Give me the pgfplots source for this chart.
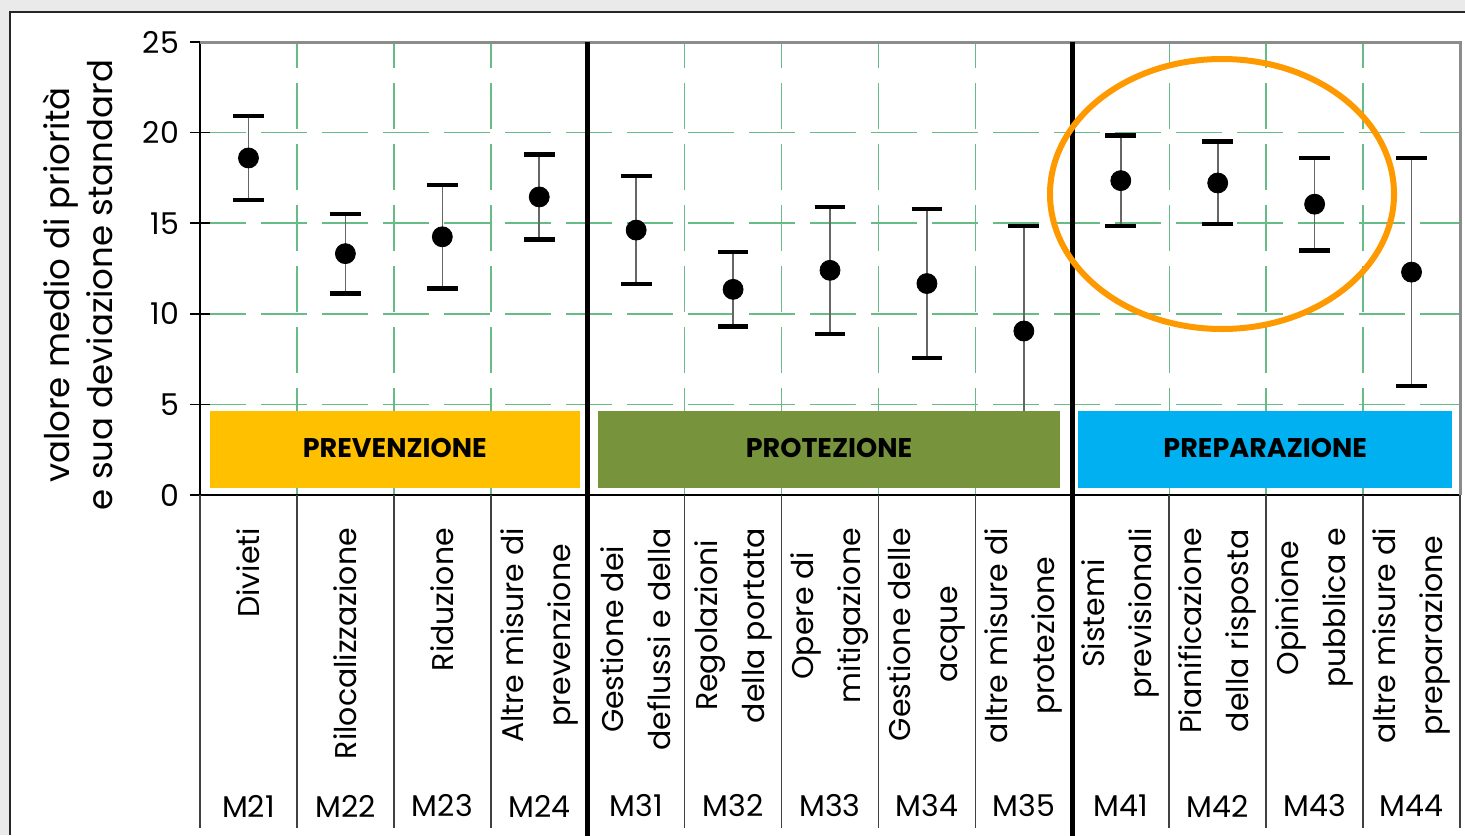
\documentclass[border=0pt]{standalone}
\usepackage{pgfplots}
\usepackage{pgfplotstable}
\pgfplotsset{compat=1.18}
\usepackage{fontspec}
\setmainfont{Poppins}

\definecolor{gridgreen}{RGB}{102,187,135}
\definecolor{prevyellow}{RGB}{255,192,0}
\definecolor{protgreen}{RGB}{119,147,60}
\definecolor{prepblue}{RGB}{0,176,240}
\definecolor{ringorange}{RGB}{255,153,0}
\definecolor{bggray}{RGB}{234,234,234}

% mean priority and its standard deviation, M21 ... M44
\pgfplotstableread{
x mean err
1 18.60 2.32
2 13.32 2.19
3 14.25 2.85
4 16.45 2.35
5 14.62 2.98
6 11.35 2.05
7 12.40 3.50
8 11.67 4.12
9 9.05 5.80
10 17.35 2.50
11 17.22 2.28
12 16.05 2.55
13 12.30 6.30
}\datatable

\begin{document}
\begin{tikzpicture}
\path[use as bounding box] (0pt,0pt) rectangle (732.5pt,-417.5pt);
% 1 px of the reference = 0.5pt
\begin{scope}[x=0.5pt,y=-0.5pt]
  \fill[bggray] (0,0) rectangle (1465,835);
  \fill[white] (10,12) rectangle (1465,835);
  \draw[black!85, line width=1pt] (10,835) -- (10,12) -- (1465,12);
\end{scope}

\begin{axis}[
    at={(100pt,-247.5pt)}, anchor=south west,
    scale only axis, width=630pt, height=226.5pt,
    xmin=0.5, xmax=13.5, ymin=0, ymax=25,
    axis x line*=bottom, axis y line*=left,
    axis line style={black, line width=0.9pt},
    xtick={1.5,2.5,...,12.5}, xticklabels={},
    x tick style={draw=none},
    ytick={0,5,...,25},
    tick align=center, major tick length=10pt,
    y tick style={black, line width=0.8pt},
    grid=major,
    major grid style={gridgreen, line width=0.75pt, dash pattern=on 23pt off 7.5pt},
    /pgf/number format/assume math mode=true,
    yticklabel style={font=\fontsize{15}{18}\selectfont, xshift=-2pt},
  ]
  \addplot[only marks, mark=*, mark size=5pt, black,
    error bars/.cd, y dir=both, y explicit,
    error bar style={black!60, line width=0.8pt},
    error mark options={black, line width=2.2pt, mark size=7.7pt, rotate=90}]
    table[x=x, y=mean, y error=err] {\datatable};

  \fill[prevyellow] (axis cs:0.603,0.39) rectangle (axis cs:4.42,4.64);
  \fill[protgreen] (axis cs:4.607,0.39) rectangle (axis cs:9.373,4.64);
  \fill[prepblue] (axis cs:9.559,0.39) rectangle (axis cs:13.418,4.64);
  \begin{scope}[every node/.style={font=\bfseries\fontsize{13.5}{15}\selectfont}]
    \node at (axis cs:2.51,2.6) {PREVENZIONE};
    \node at (axis cs:6.99,2.6) {PROTEZIONE};
    \node at (axis cs:11.49,2.6) {PREPARAZIONE};
  \end{scope}
\end{axis}

\begin{scope}[x=0.5pt,y=-0.5pt]
  \draw[black!45, line width=1.5pt] (200,42) -- (1460,42) -- (1460,495);
  \foreach \k in {0,1,2,3,5,6,7,8,10,11,12,13} {
    \pgfmathsetmacro\bx{200+\k*96.92}
    \draw[black!75, line width=0.75pt] (\bx,495) -- (\bx,828);
  }
  \foreach \k in {4,9} {
    \pgfmathsetmacro\bx{200+\k*96.92}
    \draw[black, line width=2.5pt] (\bx,42) -- (\bx,840);
  }
  \foreach \i/\txt in {1/Divieti, 2/Rilocalizzazione, 3/Riduzione,
      4/{Altre misure di\\prevenzione}, 5/{Gestione dei\\deflussi e della},
      6/{Regolazioni\\della portata}, 7/{Opere di\\mitigazione},
      8/{Gestione delle\\acque}, 9/{altre misure di\\protezione},
      10/{Sistemi\\previsionali}, 11/{Pianificazione\\della risposta},
      12/{Opinione\\pubblica e}, 13/{altre misure di\\preparazione}} {
    \pgfmathsetmacro\cx{200+(\i-0.5)*96.92}
    \node[rotate=90, anchor=east, align=center,
      font=\fontsize{15}{23.5}\selectfont] at (\cx,521) {\txt};
  }
  \foreach \i/\code in {1/M21, 2/M22, 3/M23, 4/M24, 5/M31, 6/M32, 7/M33,
      8/M34, 9/M35, 10/M41, 11/M42, 12/M43, 13/M44} {
    \pgfmathsetmacro\cx{200+(\i-0.5)*96.92}
    \node[font=\fontsize{15}{18}\selectfont] at (\cx,806) {\code};
  }
  \node[rotate=90, align=center, font=\fontsize{17}{21.5}\selectfont]
    at (78,285) {valore medio di priorità\\e sua deviazione standard};
  \draw[ringorange, line width=3pt] (1222,194) ellipse [x radius=172, y radius=135];
\end{scope}
\end{tikzpicture}
\end{document}
